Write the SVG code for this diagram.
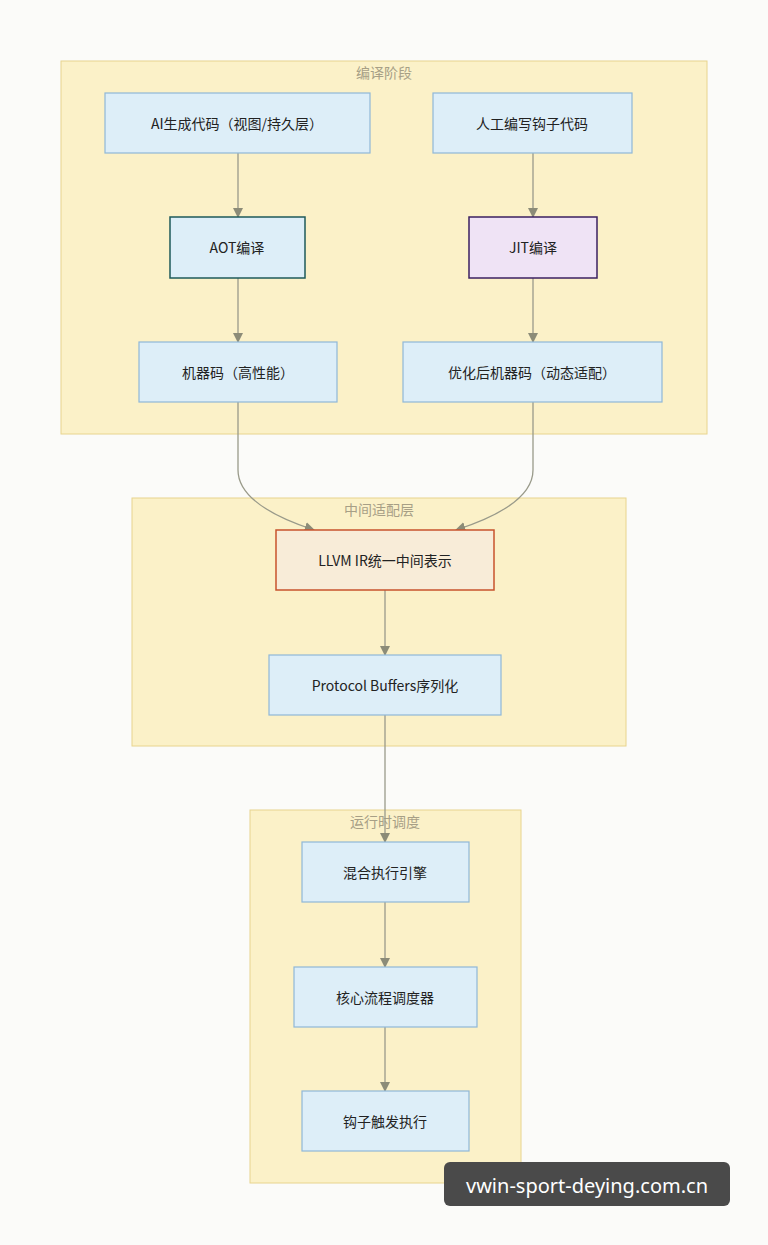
<svg xmlns="http://www.w3.org/2000/svg" width="768" height="1245" viewBox="0 0 768 1245">
<style>
.cl{fill:#fbf1c8;stroke:#e8d48e;stroke-width:1}
.ct{font:14px "Noto Sans CJK SC","Liberation Sans",sans-serif;fill:#a79f86;text-anchor:middle}
.n{fill:#ddeef8;stroke:#8fb7d8;stroke-width:1.2}
.t{font:14px "Noto Sans CJK SC","Liberation Sans",sans-serif;fill:#222;text-anchor:middle;dominant-baseline:central}
.e{fill:none;stroke:#999a8a;stroke-width:1.3;marker-end:url(#a)}
</style>
<defs><marker id="a" viewBox="0 0 10 10" refX="9" refY="5" markerWidth="8" markerHeight="8" orient="auto"><path d="M0 0L10 5L0 10z" fill="#8c8c78"/></marker></defs>
<rect width="768" height="1245" fill="#fbfbf9"/>
<g id="c1"><rect class="cl" x="61" y="61" width="646" height="373"/><text class="ct" x="384" y="78">编译阶段</text></g>
<g id="c2"><rect class="cl" x="132" y="498" width="494" height="248"/><text class="ct" x="379" y="515">中间适配层</text></g>
<g id="c3"><rect class="cl" x="250" y="810" width="271" height="373"/><text class="ct" x="385" y="827">运行时调度</text></g>
<g id="edges">
<path class="e" d="M238 153V217"/>
<path class="e" d="M533 153V217"/>
<path class="e" d="M238 278V342"/>
<path class="e" d="M533 278V342"/>
<path class="e" d="M238 402V470Q238 505 314 530"/>
<path class="e" d="M533 402V470Q533 505 456 530"/>
<path class="e" d="M385 590V655"/>
<path class="e" d="M385 715V842"/>
<path class="e" d="M385 902V967"/>
<path class="e" d="M385 1027V1091"/>
</g>
<g id="n1"><rect class="n" x="105" y="93" width="265" height="60"/><text class="t" x="237" y="123">AI生成代码（视图/持久层）</text></g>
<g id="n2"><rect class="n" x="433" y="93" width="199" height="60"/><text class="t" x="532" y="123">人工编写钩子代码</text></g>
<g id="n3"><rect x="170" y="217" width="135" height="61" fill="#ddeef8" stroke="#1e5a5a" stroke-width="1.5"/><text class="t" x="237" y="247">AOT编译</text></g>
<g id="n4"><rect x="469" y="217" width="128" height="61" fill="#efe3f5" stroke="#3b2060" stroke-width="1.5"/><text class="t" x="533" y="247">JIT编译</text></g>
<g id="n5"><rect class="n" x="139" y="342" width="198" height="60"/><text class="t" x="238" y="372">机器码（高性能）</text></g>
<g id="n6"><rect class="n" x="403" y="342" width="259" height="60"/><text class="t" x="532" y="372">优化后机器码（动态适配）</text></g>
<g id="n7"><rect x="276" y="530" width="218" height="60" fill="#f8ecd8" stroke="#c8532c" stroke-width="1.5"/><text class="t" x="385" y="560">LLVM IR统一中间表示</text></g>
<g id="n8"><rect class="n" x="269" y="655" width="232" height="60"/><text class="t" x="385" y="685">Protocol Buffers序列化</text></g>
<g id="n9"><rect class="n" x="302" y="842" width="167" height="60"/><text class="t" x="385" y="872">混合执行引擎</text></g>
<g id="n10"><rect class="n" x="294" y="967" width="183" height="60"/><text class="t" x="385" y="997">核心流程调度器</text></g>
<g id="n11"><rect class="n" x="302" y="1091" width="167" height="60"/><text class="t" x="385" y="1121">钩子触发执行</text></g>
<g id="wm"><rect x="444" y="1162" width="286" height="44" rx="6" fill="#4a4a4a"/><text x="587" y="1185" font-family="'Noto Sans','Liberation Sans',sans-serif" font-size="20" fill="#fff" text-anchor="middle" dominant-baseline="central">vwin-sport-deying.com.cn</text></g>
</svg>
